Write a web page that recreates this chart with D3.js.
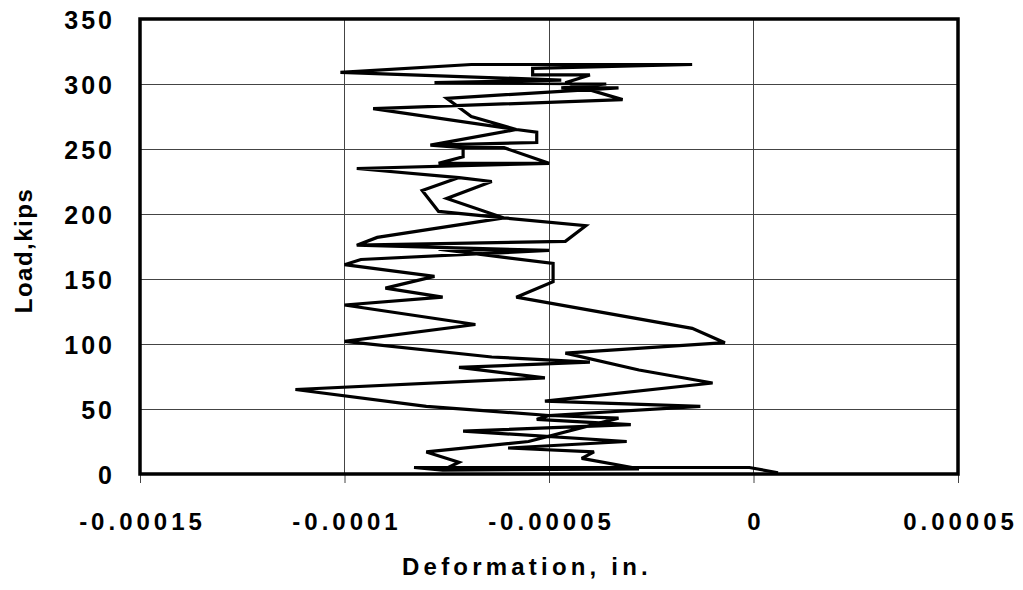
<!DOCTYPE html>
<html>
<head>
<meta charset="utf-8">
<script src="https://cdn.jsdelivr.net/npm/d3@7/dist/d3.min.js"></script>
<style>
  html, body { margin: 0; padding: 0; background: #fff; }
  svg { display: block; }
  text { font-family: "Liberation Sans", Arial, sans-serif; font-weight: bold; fill: #000; }
</style>
</head>
<body>
<svg id="chart" width="1023" height="590"></svg>
<script>
// Deformation (in.) and Load (kips), in drawing order of the single trace
const deformation = [
  0.6e-5, -0.1e-5, -8.3e-5, -7.6e-5, -2.8e-5, -4.2e-5, -3.9e-5, -6.0e-5, -3.1e-5, -7.1e-5,
  -3.0e-5, -5.3e-5, -5.0e-5, -8.0e-5, -11.2e-5, -5.1e-5, -7.2e-5, -4.0e-5, -6.4e-5, -10.0e-5,
  -6.8e-5, -10.0e-5, -7.6e-5, -9.0e-5, -7.8e-5, -10.0e-5, -9.6e-5, -5.0e-5, -9.7e-5, -9.2e-5,
  -6.1e-5, -7.7e-5, -8.1e-5, -7.2e-5, -9.7e-5, -5.0e-5, -7.7e-5, -7.1e-5, -7.1e-5, -7.9e-5,
  -5.3e-5, -5.3e-5, -5.8e-5, -6.9e-5, -7.5e-5, -3.3e-5, -4.7e-5, -3.6e-5, -7.8e-5, -4.7e-5,
  -10.1e-5, -6.9e-5, -1.5e-5, -5.4e-5, -5.4e-5, -4.0e-5, -4.6e-5, -3.2e-5, -9.3e-5, -5.8e-5,
  -7.9e-5, -7.1e-5, -6.1e-5, -5.0e-5, -9.7e-5, -7.2e-5, -6.4e-5, -7.5e-5, -6.1e-5, -4.1e-5,
  -4.6e-5, -9.7e-5, -5.0e-5, -7.7e-5, -4.9e-5, -4.9e-5, -5.8e-5, -1.5e-5, -0.7e-5, -4.6e-5,
  -2.8e-5, -1.0e-5, -5.1e-5, -1.3e-5, -5.0e-5, -3.3e-5, -5.5e-5, -8.0e-5, -7.2e-5, -7.6e-5
];
const load = [
  1, 5, 5, 3, 4, 12, 17, 20, 25, 33,
  38, 42, 45, 52, 65, 74, 82, 86, 90, 102,
  115, 130, 136, 143, 152, 161, 165, 172, 176, 182,
  197, 202, 218, 228, 235, 239, 239, 244, 251, 253,
  255, 263, 265, 275, 289, 297, 297, 300, 301, 303,
  309, 315, 315, 312, 307, 307, 301, 288, 281, 265,
  253, 251, 251, 239, 235, 228, 225, 212, 197, 191,
  179, 176, 172, 173, 162, 148, 136, 112, 101, 93,
  80, 70, 56, 52, 45, 43, 25, 17, 9, 3
];
const xTicks = [-0.00015, -0.0001, -0.00005, 0, 0.00005];
const xTickLabels = ["-0.00015", "-0.0001", "-0.00005", "0", "0.00005"];
const yTicks = [0, 50, 100, 150, 200, 250, 300, 350];
const yTickLabels = ["0", "50", "100", "150", "200", "250", "300", "350"];
const xTitle = "Deformation, in.";
const yTitle = "Load,kips";

const svg = d3.select("#chart");
const L = 140, R = 958, T = 19, B = 474;
const x = d3.scaleLinear().domain([-0.00015, 0.00005]).range([L, R]);
const y = d3.scaleLinear().domain([0, 350]).range([B, T]);
const FONT = "'Liberation Sans', Arial, sans-serif";

// gridlines
const grid = svg.append("g");
grid.selectAll("line.h").data(yTicks.slice(1, -1)).enter().append("line")
  .attr("x1", L).attr("x2", R).attr("y1", d => y(d)).attr("y2", d => y(d))
  .attr("stroke", "#444").attr("stroke-width", 1).attr("shape-rendering", "crispEdges");
grid.selectAll("line.v").data(xTicks.slice(1, -1)).enter().append("line")
  .attr("y1", T).attr("y2", B).attr("x1", d => x(d)).attr("x2", d => x(d))
  .attr("stroke", "#444").attr("stroke-width", 1).attr("shape-rendering", "crispEdges");

// x axis ticks + labels
const xAxis = d3.axisBottom(x).tickValues(xTicks).tickSize(9)
  .tickFormat((d, i) => xTickLabels[i]);
const gx = svg.append("g").attr("transform", `translate(0,${B})`).call(xAxis);
gx.select(".domain").remove();
gx.selectAll(".tick line").attr("stroke", "#444").attr("stroke-width", 1);
gx.selectAll(".tick text")
  .attr("y", 56).attr("dy", 0)
  .attr("dx", 2)
  .style("font-size", "24px").style("letter-spacing", "4px")
  .style("font-family", FONT).style("font-weight", "bold");

// y axis labels
const yAxis = d3.axisLeft(y).tickValues(yTicks).tickSize(0)
  .tickFormat((d, i) => yTickLabels[i]);
const gy = svg.append("g").attr("transform", `translate(${L},0)`).call(yAxis);
gy.select(".domain").remove();
gy.selectAll(".tick text")
  .attr("x", -25).attr("dy", "0.36em")
  .style("font-size", "25px").style("letter-spacing", "3px")
  .style("font-family", FONT).style("font-weight", "bold");

// data line
const pts = deformation.map((d, i) => [d, load[i]]);
svg.append("clipPath").attr("id", "clip").append("rect")
  .attr("x", L).attr("y", T).attr("width", R - L).attr("height", B - T);
svg.append("path")
  .datum(pts)
  .attr("clip-path", "url(#clip)")
  .attr("fill", "none").attr("stroke", "#000").attr("stroke-width", 3.2)
  .attr("stroke-linejoin", "miter").attr("stroke-miterlimit", 3)
  .attr("d", d3.line().x(d => x(d[0])).y(d => y(d[1])));

// frame
svg.append("rect").attr("x", L).attr("y", T).attr("width", R - L).attr("height", B - T)
  .attr("fill", "none").attr("stroke", "#000").attr("stroke-width", 3.5);

// titles
svg.append("text").attr("x", 527).attr("y", 575)
  .attr("text-anchor", "middle")
  .style("font-size", "24px").style("letter-spacing", "4.2px")
  .text(xTitle);
svg.append("text")
  .attr("transform", `translate(32,${(T + B) / 2 + 4}) rotate(-90)`)
  .attr("text-anchor", "middle")
  .style("font-size", "24px").style("letter-spacing", "1.5px")
  .text(yTitle);
</script>
</body>
</html>
